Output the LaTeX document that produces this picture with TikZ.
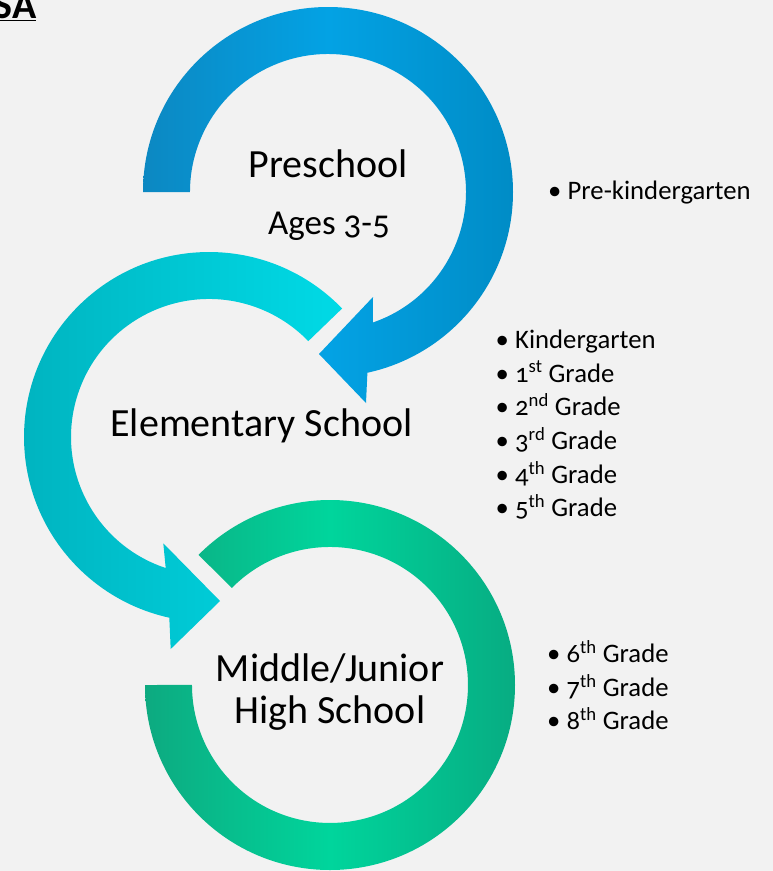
\documentclass[tikz,border=0pt]{standalone}
\usepackage{fontspec}
\setmainfont{Carlito}[Numbers=OldStyle]
\definecolor{pagegray}{HTML}{F2F2F2}
\definecolor{blueL}{HTML}{0C88C2}
\definecolor{blueM}{HTML}{03A2E4}
\definecolor{blueR}{HTML}{008CC6}
\definecolor{cyanL}{HTML}{00B2BE}
\definecolor{cyanR}{HTML}{00DAE6}
\definecolor{greenL}{HTML}{0DAA80}
\definecolor{greenM}{HTML}{00D59C}
\definecolor{greenR}{HTML}{07AC82}
\tikzset{
  stage/.style={inner sep=0pt, anchor=base, align=center, font=\fontsize{40}{41.6}\selectfont},
  grades/.style={inner sep=0pt, anchor=base west, align=left, font=\fontsize{26.7}{33.7}\selectfont},
}
\newcommand{\itm}{\makebox[19.5pt][l]{\textbullet}}

\begin{document}
\begin{tikzpicture}[x=1pt,y=1pt]
        \fill[pagegray] (0,0) rectangle (773,-871);
        \useasboundingbox (0,0) rectangle (773,-871);

        \shade[left color=blueL, right color=blueR, middle color=blueM]
          (143,-192) arc[start angle=180, end angle=-77.7, radius=185]
          -- (366,-403) -- (319,-354) -- (373,-297) -- (372.9,-322.5)
          arc[start angle=-71, end angle=180, radius=138] -- cycle;
        \shade[left color=cyanL, right color=cyanR]
          (342.1,-308.5) arc[start angle=44, end angle=257.6, radius=185]
          -- (170.7,-649) -- (220,-601) -- (163.3,-543.3) -- (165.7,-568)
          arc[start angle=251.7, end angle=44, radius=138] -- cycle;
        \shade[left color=greenL, right color=greenR, middle color=greenM]
          (145,-685) arc[start angle=180, end angle=495.3, radius=185]
          -- (231.9,-587.9)
          arc[start angle=495.3, end angle=180, radius=138] -- cycle;

        \node[anchor=base east, inner sep=0pt, font=\fontsize{40}{40}\selectfont\bfseries] (usa) at (36.5,-18.3) {\underline{SA}};

        \node[stage] (pre) at (328,-177) {Preschool};
        \node[stage, font=\fontsize{35}{36}\selectfont] (ages) at (329,-234.3) {Ages 3-5};
        \node[stage] (elem) at (261.5,-436.7) {Elementary School};
        \node[stage] (mid) at (330,-723.3) {Middle/Junior\\High School};

        \node[grades] (prek) at (548,-199) {\itm Pre-kindergarten};
        \node[grades] (k5) at (495.5,-516.8) {\itm Kindergarten\\
          \itm 1\textsuperscript{st} Grade\\
          \itm 2\textsuperscript{nd} Grade\\
          \itm 3\textsuperscript{rd} Grade\\
          \itm 4\textsuperscript{th} Grade\\
          \itm 5\textsuperscript{th} Grade};
        \node[grades] (g68) at (547,-729.8) {\itm 6\textsuperscript{th} Grade\\
          \itm 7\textsuperscript{th} Grade\\
          \itm 8\textsuperscript{th} Grade};
    \end{tikzpicture}
\end{document}
